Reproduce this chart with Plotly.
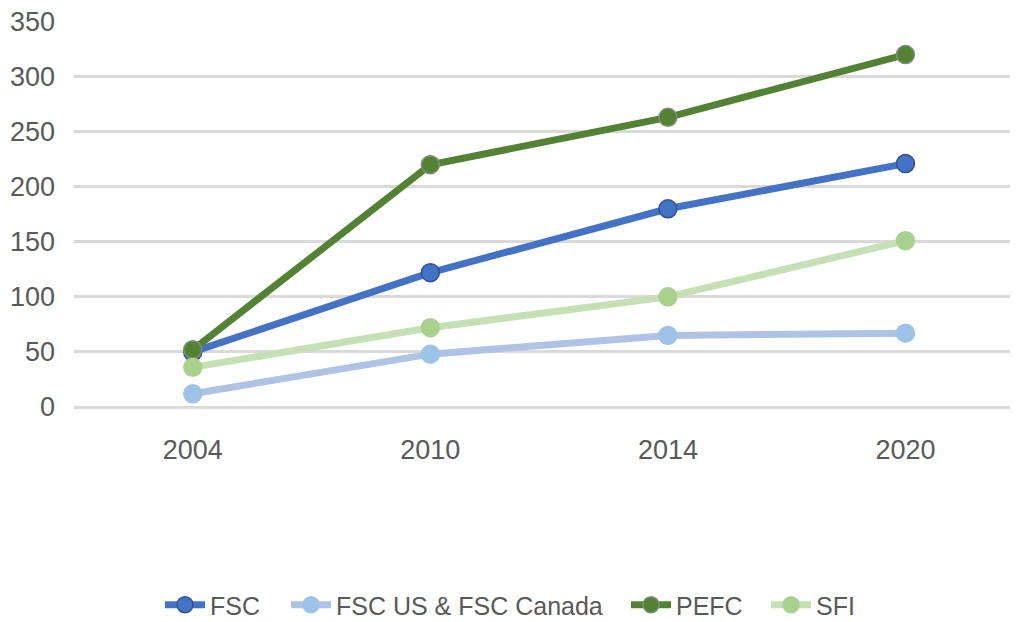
import plotly.graph_objects as go

years = ["2004", "2010", "2014", "2020"]
fsc = [50, 122, 180, 221]
fsc_us_canada = [12, 48, 65, 67]
pefc = [52, 220, 263, 320]
sfi = [36, 72, 100, 151]

series = [
    ("FSC", fsc, "#4472C4", "#4472C4", "#2F528F"),
    ("FSC US & FSC Canada", fsc_us_canada, "#AFC3E6", "#9DC3E6", "#9DC3E6"),
    ("PEFC", pefc, "#548235", "#548235", "#7F8F75"),
    ("SFI", sfi, "#C5E0B4", "#A9D18E", "#A9D18E"),
]
legend_left_px = [160, 286, 626, 766]

FONT = "Liberation Sans, Arial, sans-serif"

fig = go.Figure()
for i, (name, vals, lc, mc, mlc) in enumerate(series):
    fig.add_trace(go.Scatter(
        x=years, y=vals, name=name, mode="lines+markers",
        line=dict(color=lc, width=7),
        marker=dict(size=18, color=mc, line=dict(color=mlc, width=1.5)),
        cliponaxis=False,
        legend="legend" if i == 0 else f"legend{i+1}",
    ))

legend_common = dict(orientation="h", xref="container", yref="container",
                     xanchor="left", yanchor="middle", y=1 - 605 / 622,
                     font=dict(size=25, color="#595959", family=FONT),
                     itemwidth=40, bgcolor="rgba(0,0,0,0)")

layout_legends = {}
for i, lx in enumerate(legend_left_px):
    key = "legend" if i == 0 else f"legend{i+1}"
    layout_legends[key] = dict(legend_common, x=lx / 1016)

fig.update_layout(
    width=1016, height=622,
    margin=dict(l=74, r=6, t=21, b=215),
    paper_bgcolor="white", plot_bgcolor="white",
    font=dict(family=FONT, color="#595959", size=27),
    showlegend=True,
    **layout_legends,
    xaxis=dict(type="category", range=[-0.5, 3.44], showgrid=False, zeroline=False,
               showline=False, ticks="", ticklabelstandoff=24,
               tickfont=dict(size=27, color="#595959")),
    yaxis=dict(range=[0, 350.5], dtick=50, tick0=0, showgrid=True, gridcolor="#D9D9D9",
               gridwidth=2.5, zeroline=True, zerolinecolor="#D9D9D9", zerolinewidth=2.5,
               showline=False, ticks="",
               ticklabelstandoff=18, tickfont=dict(size=27, color="#595959")),
)
fig.write_html(
    "out.html",
    config={"displayModeBar": False},
    post_script="document.body.style.margin='0';document.body.style.overflow='hidden';",
)
